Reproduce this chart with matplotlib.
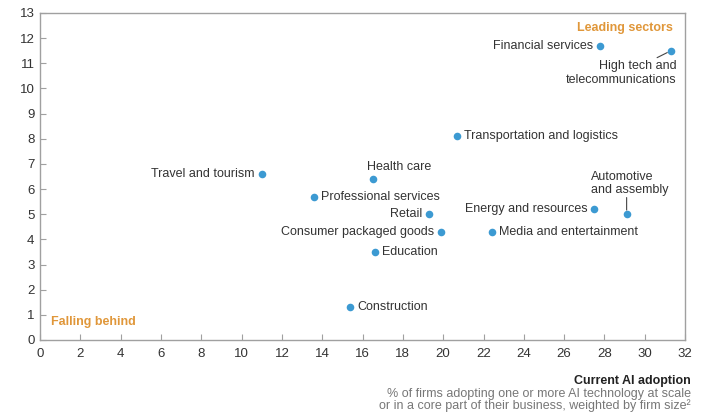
import matplotlib.pyplot as plt

plt.rcParams['font.family'] = ['Liberation Sans', 'DejaVu Sans']

sectors = ['Financial services', 'High tech and\ntelecommunications',
           'Transportation and logistics', 'Travel and tourism', 'Health care',
           'Professional services', 'Retail', 'Consumer packaged goods',
           'Education', 'Construction', 'Energy and resources',
           'Automotive\nand assembly', 'Media and entertainment']
adoption = [27.8, 31.3, 20.7, 11.0, 16.5, 13.6, 19.3, 19.9, 16.6, 15.4, 27.5, 29.1, 22.4]
score = [11.7, 11.5, 8.1, 6.6, 6.4, 5.7, 5.0, 4.3, 3.5, 1.3, 5.2, 5.0, 4.3]

# label placement: (dx, dy) in points, ha, va
place = {
    'Financial services': (-5, 0, 'right', 'center'),
    'High tech and\ntelecommunications': (4, -7, 'right', 'top'),
    'Transportation and logistics': (5, 0, 'left', 'center'),
    'Travel and tourism': (-5, 0, 'right', 'center'),
    'Health care': (-4, 4, 'left', 'bottom'),
    'Professional services': (5, 0, 'left', 'center'),
    'Retail': (-5, 0, 'right', 'center'),
    'Consumer packaged goods': (-5, 0, 'right', 'center'),
    'Education': (5, 0, 'left', 'center'),
    'Construction': (5, 0, 'left', 'center'),
    'Energy and resources': (-5, 0, 'right', 'center'),
    'Automotive\nand assembly': (-26, 13, 'left', 'bottom'),
    'Media and entertainment': (5, 0, 'left', 'center'),
}

blue = '#3c9ad2'
orange = '#e0973a'
grey = '#a0a0a0'

fig = plt.figure(figsize=(7.12, 4.16), dpi=100)
ax = fig.add_axes([0.0562, 0.1827, 0.906, 0.7861])

ax.scatter(adoption, score, s=30, color=blue, zorder=3, linewidths=0)

for name, x, y in zip(sectors, adoption, score):
    dx, dy, ha, va = place[name]
    ax.annotate(name, (x, y), xytext=(dx, dy), textcoords='offset points',
                ha=ha, va=va, fontsize=9, color='#333333', linespacing=1.15)

# leader lines for the two labels set away from their dots
i = sectors.index('High tech and\ntelecommunications')
ax.annotate('', (adoption[i], score[i]), xytext=(-10, -5), textcoords='offset points',
            arrowprops=dict(arrowstyle='-', color='#444444', lw=0.8, shrinkA=0, shrinkB=3))
i = sectors.index('Automotive\nand assembly')
ax.annotate('', (adoption[i], score[i]), xytext=(0, 12), textcoords='offset points',
            arrowprops=dict(arrowstyle='-', color='#444444', lw=0.8, shrinkA=0, shrinkB=3))

ax.text(31.4, 12.4, 'Leading sectors', ha='right', va='center', color=orange,
        fontsize=9, fontweight='bold')
ax.text(0.55, 0.72, 'Falling behind', ha='left', va='center', color=orange,
        fontsize=9, fontweight='bold')

ax.set_xlim(0, 32)
ax.set_ylim(0, 13)
ax.set_xticks(range(0, 33, 2))
ax.set_yticks(range(0, 14))
ax.tick_params(direction='in', length=4, color=grey, labelsize=9.5,
               labelcolor='#333333')
ax.tick_params(axis='x', pad=6)
ax.tick_params(axis='y', pad=4)
for s in ax.spines.values():
    s.set_color(grey)
    s.set_linewidth(1.0)

xr = 691 / 712
fig.text(xr, 1 - 381 / 416, 'Current AI adoption', ha='right', va='center',
         fontsize=9, fontweight='bold', color='#222222')
fig.text(xr, 1 - 394 / 416, '% of firms adopting one or more AI technology at scale',
         ha='right', va='center', fontsize=9, color='#777777')
fig.text(xr, 1 - 406 / 416, 'or in a core part of their business, weighted by firm size\u00b2',
         ha='right', va='center', fontsize=9, color='#777777')

fig.savefig('out.png', dpi=100)
